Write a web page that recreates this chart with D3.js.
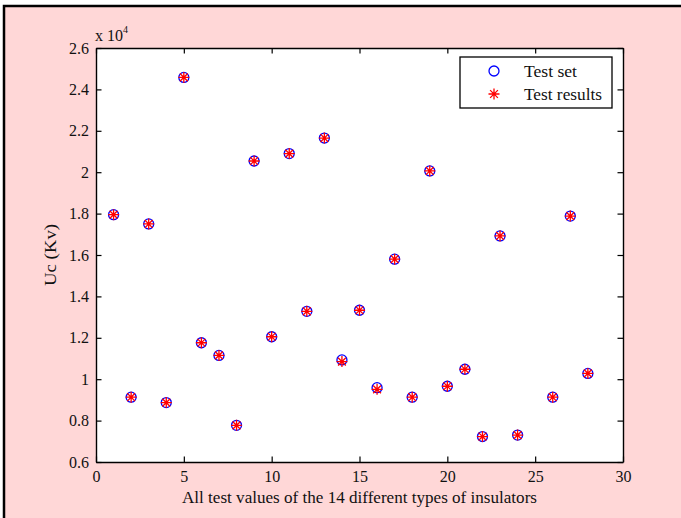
<!DOCTYPE html>
<html>
<head>
<meta charset="utf-8">
<script src="https://cdn.jsdelivr.net/npm/d3@7"></script>
<style>
html,body{margin:0;padding:0;background:#fff;}
svg{display:block;}
text{font-family:"Liberation Serif","Times New Roman",serif;fill:#111;}
</style>
</head>
<body>
<svg id="chart" width="681" height="518"></svg>
<script>
// ---- data ----
const xValues = [1,2,3,4,5,6,7,8,9,10,11,12,13,14,15,16,17,18,19,20,21,22,23,24,26,27,28];
const testSet = [17950,9130,17500,8870,24580,11760,11150,7770,20540,12050,20900,13280,21650,10930,13330,9590,15800,9130,20060,9660,10480,7230,16920,7300,9130,17880,10280];
const testResults = [17950,9130,17500,8870,24580,11760,11150,7770,20540,12050,20900,13280,21650,10850,13330,9510,15800,9130,20060,9660,10480,7230,16920,7300,9130,17880,10280];
const xTicks = [0,5,10,15,20,25,30];
const yTicks = [6000,8000,10000,12000,14000,16000,18000,20000,22000,24000,26000];
const yTickLabels = ["0.6","0.8","1","1.2","1.4","1.6","1.8","2","2.2","2.4","2.6"];
const seriesNames = ["Test set","Test results"];

// ---- layout ----
const W = 681, H = 518;
const L = 96, R = 623, T = 48, B = 462;
const svg = d3.select("#chart");

// figure background and frame
svg.append("rect").attr("x",0).attr("y",0).attr("width",W).attr("height",H).attr("fill","#fff");
svg.append("rect").attr("x",4).attr("y",6).attr("width",W+10).attr("height",H+10)
  .attr("fill","#ffd7d7").attr("stroke","#000").attr("stroke-width",2.5);

const x = d3.scaleLinear().domain([0,30]).range([L,R]);
const y = d3.scaleLinear().domain([6000,26000]).range([B,T]);

// axes area
svg.append("rect").attr("x",L).attr("y",T).attr("width",R-L).attr("height",B-T).attr("fill","#fff");

const tickLen = 5.5;
const fs = 16;
// bottom axis
const xAxis = d3.axisBottom(x).tickValues(xTicks).tickSizeInner(-tickLen).tickSizeOuter(0).tickPadding(9).tickFormat(d3.format("d"));
const gx = svg.append("g").attr("transform",`translate(0,${B})`).call(xAxis);
// top axis ticks
const gxt = svg.append("g").attr("transform",`translate(0,${T})`).call(d3.axisTop(x).tickValues(xTicks).tickSizeInner(-tickLen).tickSizeOuter(0).tickFormat(""));
// left axis
const yAxis = d3.axisLeft(y).tickValues(yTicks).tickSizeInner(-tickLen).tickSizeOuter(0).tickPadding(7)
  .tickFormat((d,i)=>yTickLabels[i]);
const gy = svg.append("g").attr("transform",`translate(${L},0)`).call(yAxis);
const gyr = svg.append("g").attr("transform",`translate(${R},0)`).call(d3.axisRight(y).tickValues(yTicks).tickSizeInner(-tickLen).tickSizeOuter(0).tickFormat(""));

[gx,gxt,gy,gyr].forEach(g=>{
  g.selectAll("path.domain").attr("stroke","#000").attr("stroke-width",1.4);
  g.selectAll(".tick line").attr("stroke","#000").attr("stroke-width",1.2);
  g.selectAll(".tick text").attr("font-family","Liberation Serif, serif").attr("font-size",fs).attr("fill","#111");
});
gx.selectAll(".tick text").attr("dy","0.68em");

// exponent label
const ex = svg.append("text").attr("x",L-1).attr("y",T-7).attr("font-size",fs);
ex.append("tspan").text("x 10");
ex.append("tspan").attr("dy",-8).attr("font-size",10).text("4");

// axis titles
svg.append("text").attr("x",(L+R)/2).attr("y",503).attr("text-anchor","middle").attr("font-size",16)
  .attr("textLength",355).attr("lengthAdjust","spacingAndGlyphs")
  .text("All test values of the 14 different types of insulators");
svg.append("text").attr("transform",`translate(56,${(T+B)/2}) rotate(-90)`).attr("text-anchor","middle").attr("font-size",16)
  .attr("textLength",62).attr("lengthAdjust","spacingAndGlyphs")
  .text("Uc (Kv)");

// asterisk path (MATLAB '*' marker)
function star(s){
  const d = s*0.7071;
  return `M${-s},0L${s},0M0,${-s}L0,${s}M${-d},${-d}L${d},${d}M${-d},${d}L${d},${-d}`;
}

// markers
const pts = xValues.map((v,i)=>({x:v,a:testSet[i],b:testResults[i]}));
svg.append("g").selectAll("circle").data(pts).join("circle")
  .attr("cx",d=>x(d.x)).attr("cy",d=>y(d.a)).attr("r",5)
  .attr("fill","none").attr("stroke","#0000ff").attr("stroke-width",1.3);
svg.append("g").selectAll("path").data(pts).join("path")
  .attr("transform",d=>`translate(${x(d.x)},${y(d.b)})`)
  .attr("d",star(5.5)).attr("stroke","#ff0000").attr("stroke-width",1.3).attr("fill","none");

// legend
const lg = svg.append("g");
lg.append("rect").attr("x",460).attr("y",57).attr("width",152).attr("height",51)
  .attr("fill","#fff").attr("stroke","#000").attr("stroke-width",1.3);
lg.append("circle").attr("cx",494).attr("cy",71).attr("r",5).attr("fill","none").attr("stroke","#0000ff").attr("stroke-width",1.3);
lg.append("path").attr("transform","translate(494,94)").attr("d",star(5.5)).attr("stroke","#ff0000").attr("stroke-width",1.3);
lg.append("text").attr("x",524).attr("y",77).attr("font-size",16).attr("textLength",53).attr("lengthAdjust","spacingAndGlyphs").text(seriesNames[0]);
lg.append("text").attr("x",524).attr("y",100).attr("font-size",16).attr("textLength",78).attr("lengthAdjust","spacingAndGlyphs").text(seriesNames[1]);
</script>
</body>
</html>
